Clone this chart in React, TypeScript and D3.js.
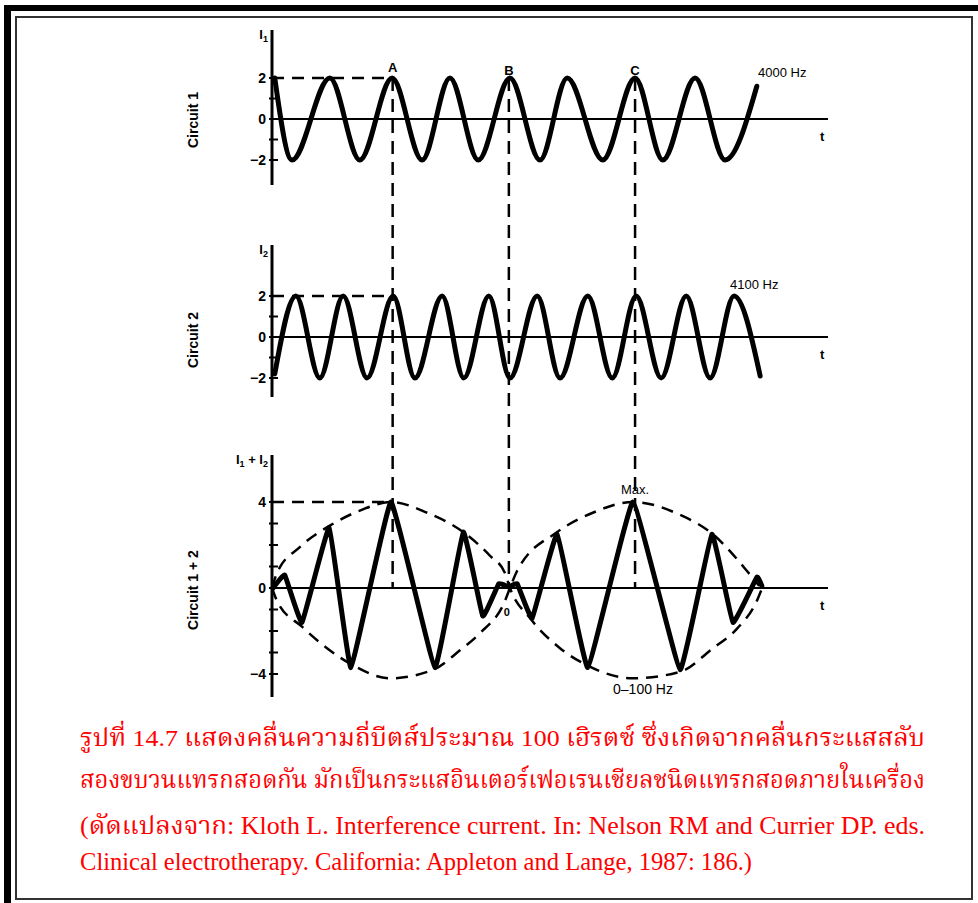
import React from "react";
import * as d3 from "d3";

// ---------- DATA (time in arbitrary units 0..100, values in current units) ----------
const circuit1: [number, number][] = [
  [0.5, 2], [3.6, -2], [10.4, 2], [15.8, -2], [21.6, 2], [27.0, -2], [32.0, 2], [37.1, -2],
  [42.8, 2], [48.2, -2], [53.1, 2], [59.5, -2], [65.3, 2], [70.3, -2], [76.1, 2], [81.5, -2], [87.2, 1.6],
];
const circuit2: [number, number][] = [
  [0.5, -1.8], [4.3, 2], [8.6, -2], [12.8, 2], [17.1, -2], [21.8, 2], [25.7, -2], [30.6, 2], [34.5, -2],
  [39.0, 2], [42.8, -2], [47.7, 2], [51.8, -2], [56.8, 2], [61.2, -2], [65.5, 2], [70.0, -2],
  [74.5, 2], [78.8, -2], [83.1, 2], [87.8, -1.9],
];
const circuitSum: [number, number][] = [
  [0.2, 0], [2.3, 0.6], [5.4, -1.6], [10.3, 2.8], [14.2, -3.7], [21.4, 4], [29.3, -3.7], [34.4, 2.6],
  [37.9, -1.3], [40.8, 0.2], [42.6, 0.05], [44.1, 0.2], [46.8, -1.4], [51.3, 2.5], [56.8, -3.7],
  [64.9, 4], [73.4, -3.8], [79.1, 2.5], [82.9, -1.6], [87.2, 0.5], [88.1, 0.1],
];
// envelope: upper of beat 1 continuing into lower of beat 2, and vice versa
const envelopeA: [number, number][] = [
  [0, 0], [0.9, 0.7], [5.0, 1.9], [10.4, 2.9], [15.8, 3.6], [21.4, 4.0], [27.9, 3.5], [34.4, 2.6],
  [39.2, 1.5], [41.9, 0.7], [42.8, 0], [46.4, -1.4], [51.8, -2.8], [56.7, -3.6], [64.9, -4.2],
  [73.4, -3.9], [79.3, -2.8], [83.6, -1.9], [87.2, -0.6], [88.0, -0.1],
];
const envelopeB: [number, number][] = [
  [0, 0], [0.9, -0.6], [5.4, -1.8], [9.9, -2.8], [14.6, -3.6], [21.2, -4.2], [29.0, -3.8], [33.8, -2.9],
  [37.4, -2.1], [41.9, -0.6], [42.8, 0], [44.1, 0.8], [51.3, 2.6], [57.7, 3.5], [64.9, 4.0],
  [73.4, 3.4], [79.3, 2.5], [85.4, 0.8], [87.6, 0.1],
];
const markerLabels = ["A", "B", "C"];
const markerT = [21.7, 42.6, 65.3];
const ticks1 = [-2, 0, 2];
const minorTicks1 = [-2, -1, 0, 1, 2];
const ticks3 = [-4, 0, 4];
const minorTicks3 = [-4, -3, -2, -1, 0, 1, 2, 3, 4];
const freqLabels = ["4000 Hz", "4100 Hz"];
const panelNames = ["Circuit 1", "Circuit 2", "Circuit 1 + 2"];
const caption = [
  "รูปที่ 14.7 แสดงคลื่นความถี่บีตส์ประมาณ 100 เฮิรตซ์ ซึ่งเกิดจากคลื่นกระแสสลับ",
  "สองขบวนแทรกสอดกัน มักเป็นกระแสอินเตอร์เฟอเรนเชียลชนิดแทรกสอดภายในเครื่อง",
  "(ดัดแปลงจาก: Kloth L. Interference current. In: Nelson RM and Currier DP. eds.",
  "Clinical electrotherapy. California: Appleton and Lange, 1987: 186.)",
];

// ---------- LAYOUT ----------
const W = 978, H = 903;
const AX = 272, XEND = 828;
const x = d3.scaleLinear().domain([0, 100]).range([AX, XEND]);
const y1 = d3.scaleLinear().domain([-2, 2]).range([160, 78]);
const y2 = d3.scaleLinear().domain([-2, 2]).range([378, 296]);
const y3 = d3.scaleLinear().domain([-4, 4]).range([674, 502]);

const FONT = "'Liberation Sans', Arial, sans-serif";
const smooth = (ys: d3.ScaleLinear<number, number>) =>
  d3.line<[number, number]>().x((d) => x(d[0])).y((d) => ys(d[1])).curve(d3.curveMonotoneX);
const sharp = (ys: d3.ScaleLinear<number, number>) =>
  d3.line<[number, number]>().x((d) => x(d[0])).y((d) => ys(d[1])).curve(d3.curveCardinal.tension(0.75));

function Panel({ ys, top, bottom, ticks, minor, name, cy, axisLabel }: any) {
  return (
    <g>
      <line x1={AX} x2={AX} y1={top} y2={bottom} stroke="#000" strokeWidth={3} />
      <line x1={AX} x2={XEND} y1={ys(0)} y2={ys(0)} stroke="#000" strokeWidth={2} />
      {minor.map((v: number) => (
        <line key={"m" + v} x1={AX - 3} x2={AX + 6} y1={ys(v)} y2={ys(v)} stroke="#000" strokeWidth={2} />
      ))}
      {ticks.map((v: number) => (
        <text key={v} x={AX - 6} y={ys(v)} dy="0.36em" textAnchor="end" fontFamily={FONT}
          fontWeight="bold" fontSize={14}>{v < 0 ? "−" + Math.abs(v) : v}</text>
      ))}
      <text transform={`translate(193,${cy}) rotate(-90)`} textAnchor="middle" dominantBaseline="central"
        fontFamily={FONT} fontWeight="bold" fontSize={14}>{name}</text>
      <text x={AX - 4} y={top + 9} textAnchor="end" fontFamily={FONT} fontWeight="bold" fontSize={13}>
        {axisLabel}
      </text>
      <text x={820} y={ys(0) + 22} fontFamily={FONT} fontWeight="bold" fontSize={13}>t</text>
    </g>
  );
}

export default function App() {
  const dashH = "12 8";
  const dashV = "13 8";
  return (
    <svg width={W} height={H} style={{ position: "absolute", left: 0, top: 0, background: "#fff" }}>
      {/* frames */}
      <rect x={4} y={5} width={W - 4} height={6} fill="#000" />
      <rect x={4} y={5} width={7} height={H - 5} fill="#000" />
      <rect x={16} y={17} width={956} height={882} fill="none" stroke="#333" strokeWidth={2} />

      <Panel ys={y1} top={30} bottom={185} ticks={ticks1} minor={minorTicks1} name={panelNames[0]} cy={120}
        axisLabel={<tspan>I<tspan fontSize={9} dy={3}>1</tspan></tspan>} />
      <Panel ys={y2} top={245} bottom={397} ticks={ticks1} minor={minorTicks1} name={panelNames[1]} cy={340}
        axisLabel={<tspan>I<tspan fontSize={9} dy={3}>2</tspan></tspan>} />
      <Panel ys={y3} top={455} bottom={697} ticks={ticks3} minor={minorTicks3} name={panelNames[2]} cy={590}
        axisLabel={<tspan>I<tspan fontSize={9} dy={3}>1</tspan><tspan dy={-3}> + I</tspan><tspan fontSize={9} dy={3}>2</tspan></tspan>} />

      {/* horizontal dashed reference lines */}
      <line x1={AX} x2={x(markerT[0])} y1={y1(2)} y2={y1(2)} stroke="#000" strokeWidth={2.5} strokeDasharray={dashH} />
      <line x1={AX} x2={x(markerT[0])} y1={y2(2)} y2={y2(2)} stroke="#000" strokeWidth={2.5} strokeDasharray={dashH} />
      <line x1={AX} x2={x(markerT[0])} y1={y3(4)} y2={y3(4)} stroke="#000" strokeWidth={2.5} strokeDasharray={dashH} />

      {/* vertical marker lines */}
      {markerT.map((t, i) => (
        <g key={i}>
          <line x1={x(t)} x2={x(t)} y1={y1(2)} y2={y3(0)} stroke="#000" strokeWidth={2.5} strokeDasharray={dashV} />
          <text x={x(t)} y={i === 0 ? 72 : 75} textAnchor="middle" fontFamily={FONT} fontWeight="bold" fontSize={13}>
            {markerLabels[i]}
          </text>
        </g>
      ))}

      {/* envelopes */}
      <path d={smooth(y3)(envelopeA) || ""} fill="none" stroke="#000" strokeWidth={2.5} strokeDasharray="12 8" />
      <path d={smooth(y3)(envelopeB) || ""} fill="none" stroke="#000" strokeWidth={2.5} strokeDasharray="12 8" />

      {/* waveforms */}
      <path d={smooth(y1)(circuit1) || ""} fill="none" stroke="#000" strokeWidth={5} strokeLinecap="round" />
      <path d={smooth(y2)(circuit2) || ""} fill="none" stroke="#000" strokeWidth={5} strokeLinecap="round" />
      <path d={sharp(y3)(circuitSum) || ""} fill="none" stroke="#000" strokeWidth={5} strokeLinecap="round" strokeLinejoin="round" />

      {/* annotations */}
      <text x={758} y={77} fontFamily={FONT} fontSize={13}>{freqLabels[0]}</text>
      <text x={730} y={289} fontFamily={FONT} fontSize={13}>{freqLabels[1]}</text>
      <text x={x(markerT[2])} y={494} textAnchor="middle" fontFamily={FONT} fontSize={13}>Max.</text>
      <text x={x(markerT[1]) - 2} y={616} textAnchor="middle" fontFamily={FONT} fontWeight="bold" fontSize={11}>0</text>
      <text x={643} y={694} textAnchor="middle" fontFamily={FONT} fontSize={14}>0–100 Hz</text>

      {/* caption */}
      {caption.map((line, i) => (
        <text key={i} x={80} y={[746, 788, 834, 870][i]} fill="#ff0000"
          fontFamily="'Liberation Serif', 'Noto Serif Thai', 'Noto Sans Thai', serif" fontSize={i < 2 ? 24 : 25}
          textLength={i < 3 ? 845 : 672} lengthAdjust="spacingAndGlyphs">{line}</text>
      ))}
    </svg>
  );
}
